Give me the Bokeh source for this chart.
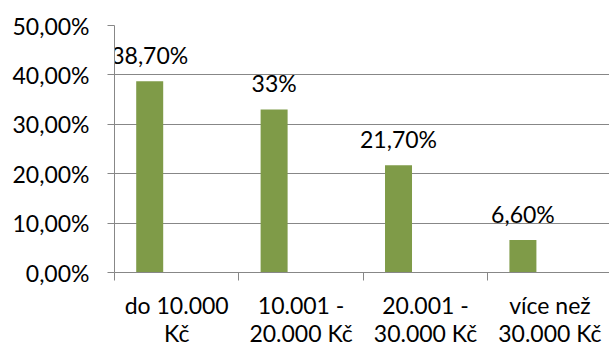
from bokeh.plotting import figure
from bokeh.models import Range1d, FixedTicker, ColumnDataSource
from bokeh.core.properties import value
from bokeh.embed import file_html
from bokeh.resources import INLINE

categories = ["do 10.000\nKč", "10.001 -\n20.000 Kč", "20.001 -\n30.000 Kč", "více než\n30.000 Kč"]
values = [38.7, 33.0, 21.7, 6.6]
value_labels = ["38,70%", "33%", "21,70%", "6,60%"]
y_ticks = [0, 10, 20, 30, 40, 50]
y_tick_labels = ["0,00%", "10,00%", "20,00%", "30,00%", "40,00%", "50,00%"]

FONT = "Lato"
FS = "23px"
GRID = "#878787"
BAR = "#7F9B48"

idx = list(range(len(categories)))
bar_x = [i + 0.283 for i in idx]
src = ColumnDataSource(dict(x=bar_x, top=values, lab=value_labels))

p = figure(width=609, height=349, output_backend="svg", toolbar_location=None,
           x_range=Range1d(0, 3.979), y_range=Range1d(0, 50),
           min_border_left=114, min_border_right=0, min_border_top=25, min_border_bottom=77)
p.outline_line_color = None
p.background_fill_color = "white"
p.border_fill_color = "white"

p.vbar(x="x", top="top", bottom=0, width=0.217, source=src, fill_color=BAR, line_color=None)
p.text(x="x", y="top", text="lab", source=src, text_align="center", text_baseline="alphabetic",
       y_offset=-26, text_font=value(FONT), text_font_size=FS, text_color="black")

p.xgrid.visible = False
p.ygrid.ticker = FixedTicker(ticks=y_ticks)
p.ygrid.grid_line_color = GRID
p.ygrid.grid_line_width = 1

ya = p.yaxis[0]
ya.ticker = FixedTicker(ticks=y_ticks, minor_ticks=[])
ya.major_label_overrides = {t: l for t, l in zip(y_ticks, y_tick_labels)}
ya.axis_line_color = GRID
ya.major_tick_line_color = GRID
ya.major_tick_out = 7
ya.major_tick_in = 0
ya.minor_tick_line_color = None
ya.major_label_standoff = 18
ya.major_label_text_font = FONT
ya.major_label_text_font_size = FS
ya.major_label_text_color = "black"

xa = p.xaxis[0]
centers = [i + 0.5 for i in idx]
xa.ticker = FixedTicker(ticks=centers, minor_ticks=[0, 1, 2, 3, 4])
xa.major_label_overrides = {c: l for c, l in zip(centers, categories)}
xa.axis_line_color = GRID
xa.major_tick_line_color = None
xa.major_tick_out = 0
xa.major_tick_in = 0
xa.minor_tick_line_color = GRID
xa.minor_tick_out = 8
xa.minor_tick_in = 0
xa.major_label_standoff = 10
xa.major_label_text_line_height = 1.0
xa.major_label_text_font = FONT
xa.major_label_text_font_size = FS
xa.major_label_text_color = "black"

open("out.html", "w").write(file_html(p, INLINE))
